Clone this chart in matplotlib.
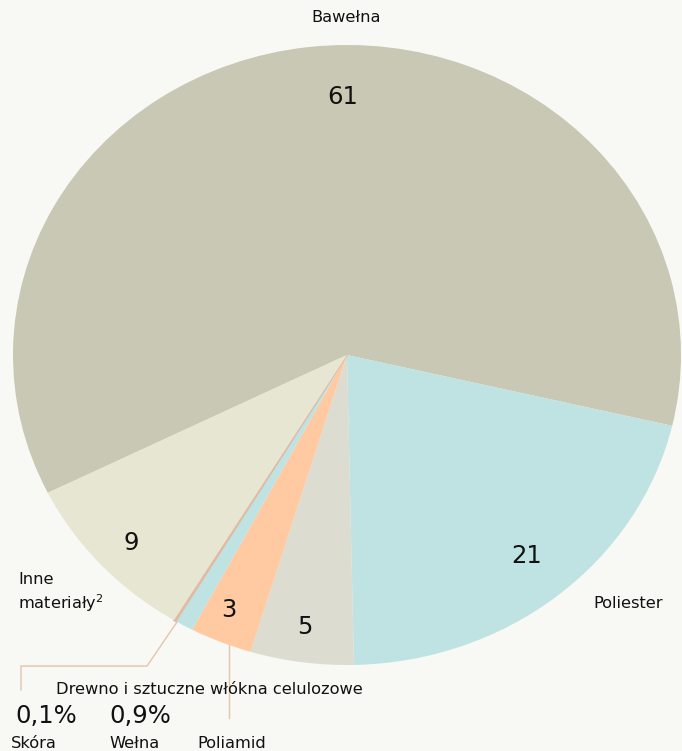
import matplotlib
matplotlib.use("Agg")
import matplotlib.pyplot as plt
from matplotlib.lines import Line2D

plt.rcParams['font.family'] = ['DejaVu Sans']

categories = ["Bawełna", "Poliester", "Drewno i sztuczne włókna celulozowe",
              "Poliamid", "Wełna", "Skóra", "Inne materiały"]
values = [61, 21, 5, 3, 0.9, 0.1, 9]
colors = ["#c8c8b4", "#bfe2e2", "#dcdcd0", "#ffc9a2", "#bfe2e2", "#e2b9a2", "#e6e6d3"]
value_labels = ["61", "21", "5", "3", "0,9%", "0,1%", "9"]

W, H = 682, 751
BG = "#f8f8f4"
fig = plt.figure(figsize=(W / 100, H / 100), dpi=100, facecolor=BG)

# pie ellipse bounding box in pixels
left, right, top, bottom = 13, 681, 45, 665
ax = fig.add_axes([left / W, 1 - bottom / H, (right - left) / W, (bottom - top) / H])
ax.set_facecolor(BG)
wedges, _ = ax.pie(values, colors=colors, startangle=206.4, counterclock=False,
                   radius=1, wedgeprops=dict(linewidth=0))
# thin slice (Skóra) gets an outline in its own colour so it stays visible
wedges[5].set_edgecolor(colors[5])
wedges[5].set_linewidth(1.2)
ax.set_aspect('auto')
ax.set_xlim(-1, 1)
ax.set_ylim(-1, 1)
ax.axis('off')

BIG, SMALL = 17.5, 11.7

def ftext(px, py, s, size, ha='center', va='center', **kw):
    fig.text(px / W, 1 - py / H, s, fontsize=size, ha=ha, va=va, color="#111111", **kw)

def fline(xs, ys, color):
    fig.add_artist(Line2D([x / W for x in xs], [1 - y / H for y in ys],
                          transform=fig.transFigure, color=color, linewidth=1.0))

# in-slice numbers
ftext(343, 97, value_labels[0], BIG)
ftext(527, 556, value_labels[1], BIG)
ftext(305, 627, value_labels[2], BIG)
ftext(229, 610, value_labels[3], BIG)
ftext(131, 543, value_labels[6], BIG)

# category labels
ftext(346, 18, categories[0], SMALL)
ftext(628, 604, categories[1], SMALL)
ftext(18, 593, "Inne\nmateriały$^{2}$", SMALL, ha='left', linespacing=1.3)
ftext(209, 690, categories[2], SMALL)
ftext(46, 716, value_labels[5], BIG)
ftext(140, 716, value_labels[4], BIG)
ftext(34, 743, categories[5], SMALL)
ftext(135, 743, categories[4], SMALL)
ftext(232, 743, categories[3], SMALL)

# leader lines
fline([177, 147, 21, 21], [622, 666, 666, 690], "#e6c4ae")
fline([229, 229], [645, 718], "#e6c4ae")

fig.savefig("out.png", dpi=100, facecolor=BG)
